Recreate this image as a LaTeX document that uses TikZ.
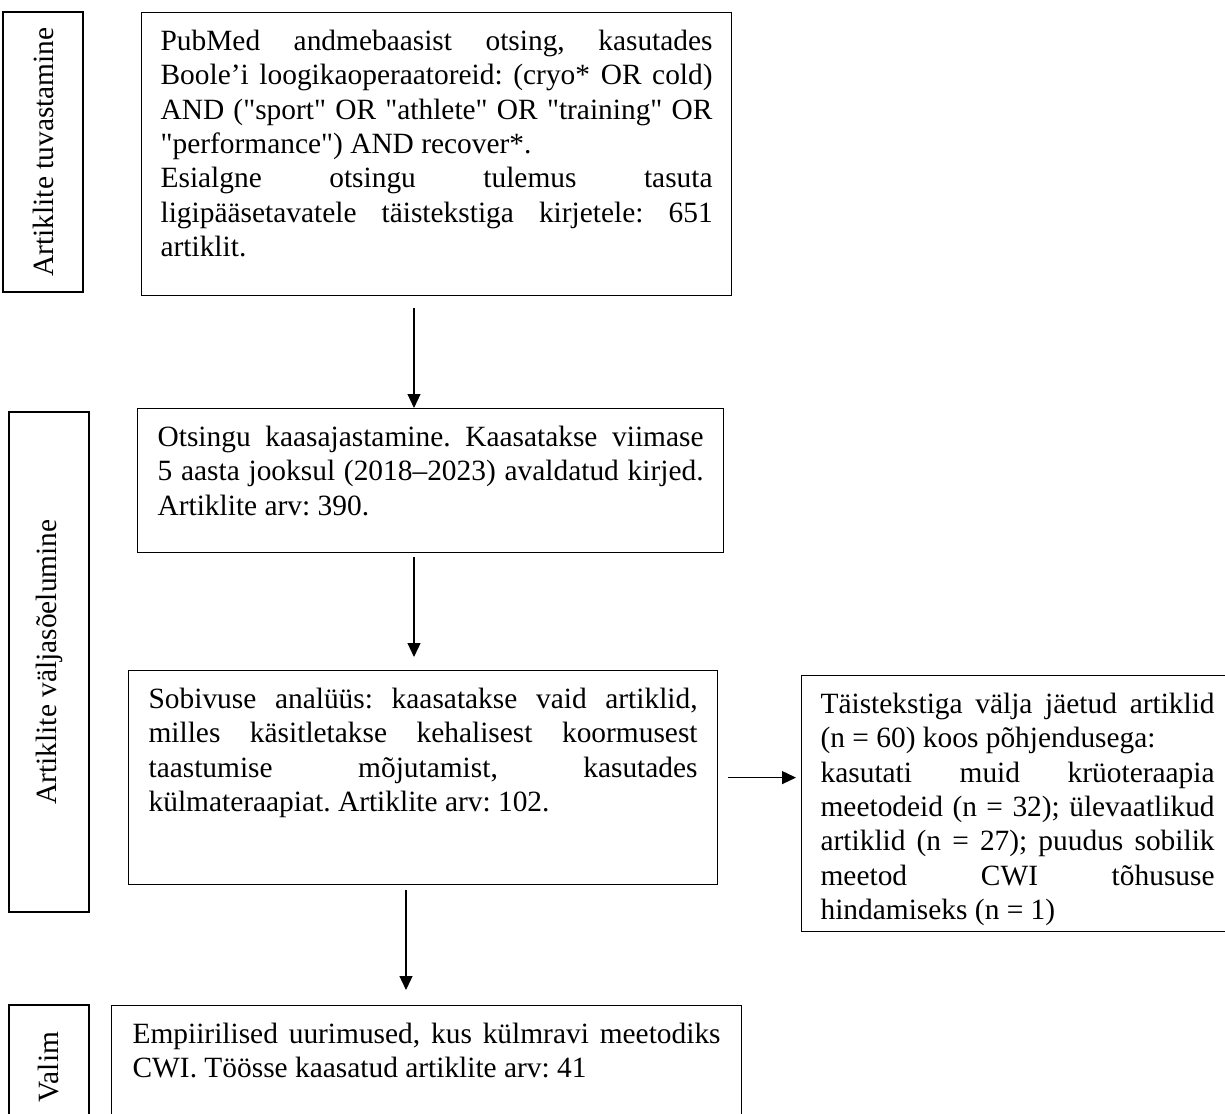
\documentclass[tikz,border=0pt]{standalone}
\usepackage{fontspec}
\newfontfamily\flowfont{Liberation Serif}
\usetikzlibrary{arrows.meta}
\frenchspacing
\hyphenpenalty=10000
\hbadness=10000
\newcommand{\flowsize}{\fontsize{14.7}{17.15}\selectfont}
\newcommand{\boxtext}[3]{\parbox[t][#2][t]{#1}{\rule{0pt}{19pt}#3}}
\tikzset{
  stage/.style={draw,line width=0.6pt,anchor=north west,inner xsep=10pt,
    inner ysep=0pt,font=\flowfont\flowsize},
  side/.style={draw,line width=0.6pt,rotate=90,minimum height=40pt,
    inner sep=0pt,font=\flowfont\flowsize},
  flow/.style={line width=0.6pt,-{Triangle[width=6.5pt,length=7pt]}}
}
\begin{document}
\begin{tikzpicture}[x=0.5pt,y=-0.5pt]
        \clip (0,0) rectangle (1225,1113);
        %% Stage labels
        \node[side,minimum width=140pt] (s1) at (43,152) {Artiklite tuvastamine};
        \node[side,minimum width=250pt] (s2) at (49,662) {Artiklite väljasõelumine};
        \node[side,minimum width=62pt] (s3) at (49,1067) {Valim};
        %% Boxes
        \node[stage,inner xsep=9.5pt] (b1) at (141,12) {\boxtext{276pt}{141.5pt}{%
            PubMed andmebaasist otsing, kasutades\linebreak
            Boole’i loogikaoperaatoreid: (cryo* OR cold)\linebreak
            AND ("sport" OR "athlete" OR "training" OR\linebreak
            "performance") AND recover*.\par
            Esialgne otsingu tulemus tasuta\linebreak
            ligipääsetavatele täistekstiga kirjetele: 651\linebreak
            artiklit.}};
        \node[stage] (b2) at (137,408) {\boxtext{273pt}{72pt}{%
            Otsingu kaasajastamine. Kaasatakse viimase\linebreak
            5 aasta jooksul (2018–2023) avaldatud kirjed.\linebreak
            Artiklite arv: 390.}};
        \node[stage] (b3) at (128,670) {\boxtext{274.5pt}{107pt}{%
            Sobivuse analüüs: kaasatakse vaid artiklid,\linebreak
            milles käsitletakse kehalisest koormusest\linebreak
            taastumise mõjutamist, kasutades\linebreak
            külmateraapiat. Artiklite arv: 102.}};
        \node[stage,inner xsep=9.5pt] (b4) at (801,675) {\boxtext{197pt}{128pt}{%
            Täistekstiga välja jäetud artiklid\linebreak
            (n = 60) koos põhjendusega:\par
            kasutati muid krüoteraapia\linebreak
            meetodeid (n = 32); ülevaatlikud\linebreak
            artiklid (n = 27); puudus sobilik\linebreak
            meetod CWI tõhususe\linebreak
            hindamiseks (n = 1)}};
        \node[stage,inner xsep=10.5pt] (b5) at (111,1005) {\boxtext{294pt}{62pt}{%
            Empiirilised uurimused, kus külmravi meetodiks\linebreak
            CWI. Töösse kaasatud artiklite arv: 41}};
        %% Arrows
        \coordinate (c1) at (414,0);
        \coordinate (c2) at (406,0);
        \draw[flow] ([yshift=-6pt]c1 |- b1.south) -- (c1 |- b2.north);
        \draw[flow] ([yshift=-2pt]c1 |- b2.south) -- ([yshift=6.5pt]c1 |- b3.north);
        \draw[flow] ([yshift=-2.5pt]c2 |- b3.south) -- ([yshift=7.5pt]c2 |- b5.north);
        \draw[flow] ([xshift=5pt]b3.east) -- ([xshift=-2.5pt]b3.east -| b4.west);
\end{tikzpicture}
\end{document}
